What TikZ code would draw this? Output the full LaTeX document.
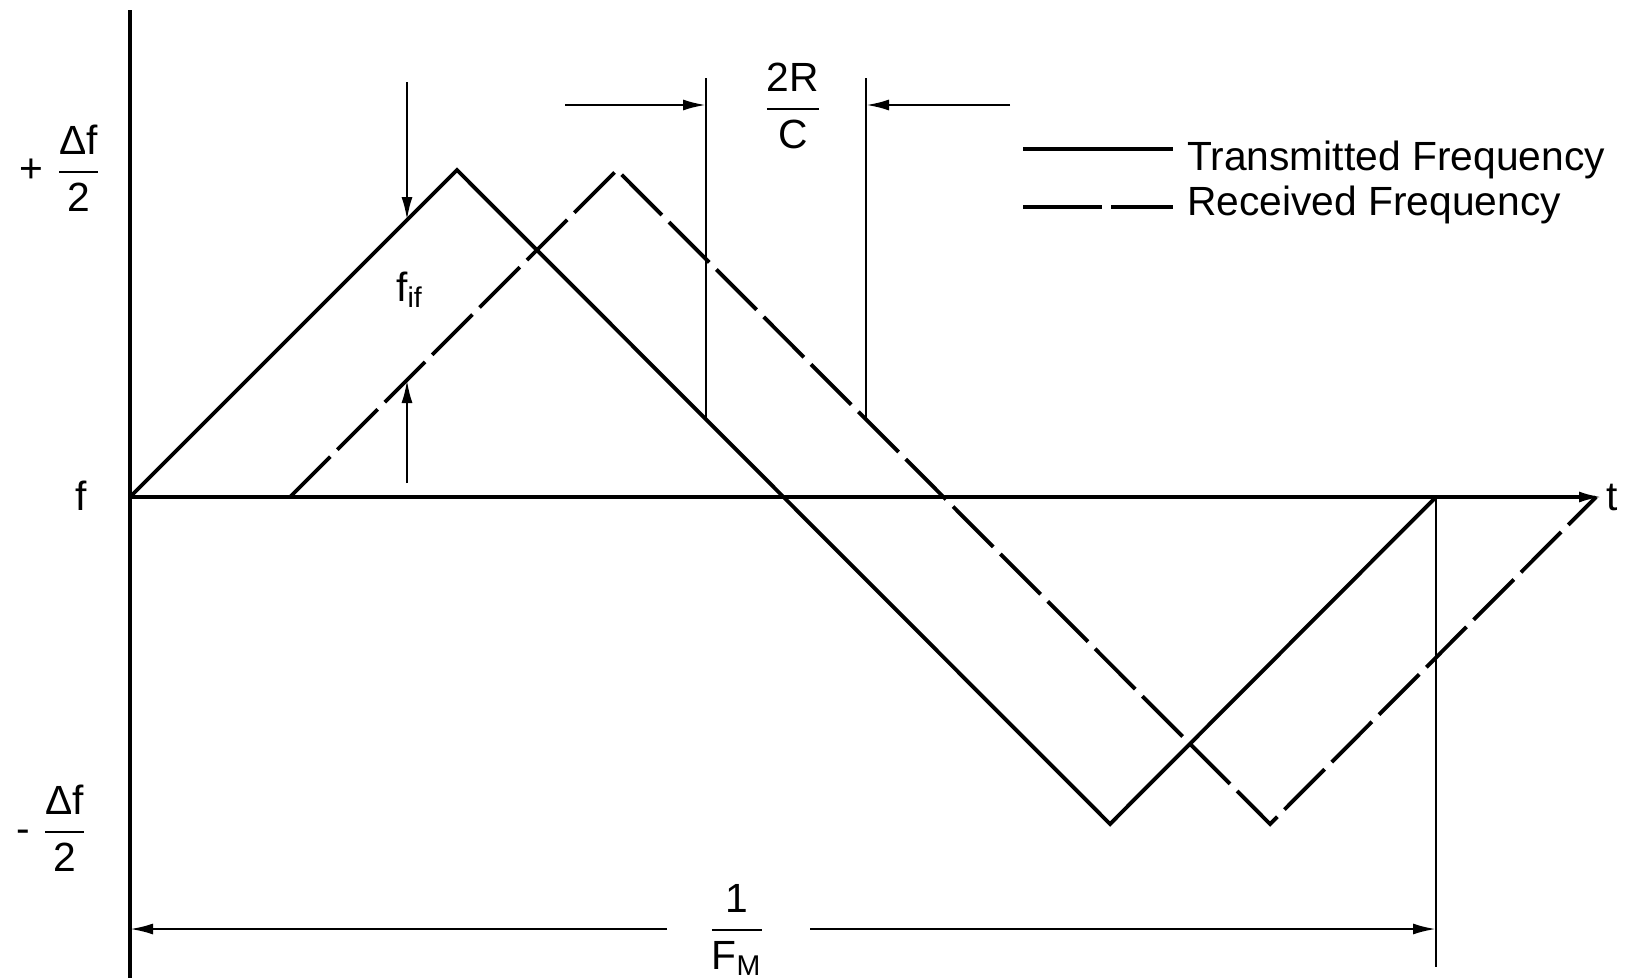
\documentclass[tikz,border=0pt]{standalone}
\usepackage{amsmath}
\usepackage{fontspec}
\setmainfont{Liberation Sans}
\usetikzlibrary{arrows.meta,positioning,calc}
\tikzset{
  fmcwaxis/.style={line width=0.9pt},
  fmcwtx/.style={line width=1.1pt,line join=miter},
  fmcwrx/.style={fmcwtx,dash pattern=on 5.7mm off 1mm},
  fmcwlegrx/.style={fmcwtx,dash pattern=on 7.9mm off 0.9mm on 20mm},
  fmcwdim/.style={-{Latex[length=2.3mm,width=1.1mm]},line width=0.7pt},
  fmcwguide/.style={line width=0.8pt},
  fmcwlabel/.style={font=\fontsize{11.6}{14}\selectfont,inner sep=1pt}
}

\begin{document}
\begin{tikzpicture}[x=1cm,y=1cm]
  \useasboundingbox (-1.30,-4.81) rectangle (14.96,4.97);
  % axes
  \coordinate (origin) at (0,0);
  \coordinate (axtop) at (0,4.87);
  \coordinate (axbot) at (0,-4.81);
  \coordinate (axend) at (14.72,0);
  \draw[fmcwaxis] (axtop) -- (axbot);
  \draw[fmcwaxis,-{Latex[length=2.3mm,width=1.1mm]}] (origin) -- (axend);
  \node[fmcwlabel,anchor=west] (tlab) at (axend) {t};
  \node[fmcwlabel] (flab) at (-0.49,0.01) {f};
  \node[fmcwlabel] (fmax) at (-0.69,3.29) {+ $\dfrac{\text{Δf}}{\text{2}}$};
  \node[fmcwlabel] (fmin) at (-0.78,-3.31) {- $\dfrac{\text{Δf}}{\text{2}}$};
  % transmitted and received sweeps
  \coordinate (tx0) at (0,0);
  \coordinate (txpk) at (3.27,3.27);
  \coordinate (txtr) at (9.80,-3.27);
  \coordinate (txend) at (13.06,0);
  \coordinate (rx0) at (1.60,0);
  \coordinate (rxpk) at (4.87,3.27);
  \coordinate (rxtr) at (11.40,-3.27);
  \coordinate (rxend) at (14.66,0);
  \draw[fmcwtx] (tx0) -- (txpk) -- (txtr) -- (txend);
  \draw[fmcwrx] (rx0) -- (rxpk) -- (rxtr) -- (rxend);
  % beat frequency
  \coordinate (fiftop) at (2.77,4.15);
  \coordinate (fiftx) at (2.77,2.77);
  \coordinate (fifbot) at (2.77,0.14);
  \coordinate (fifrx) at (2.77,1.17);
  \draw[fmcwdim] (fiftop) -- (fiftx);
  \draw[fmcwdim] (fifbot) -- (fifrx);
  \node[fmcwlabel] (fif) at (2.80,2.07) {$\text{f}_{\text{if}}$};
  % delay 2R/C
  \coordinate (dlLtop) at (5.76,4.19);
  \coordinate (dlLbot) at (5.76,0.78);
  \coordinate (dlRtop) at (7.36,4.19);
  \coordinate (dlRbot) at (7.36,0.78);
  \coordinate (dlLfar) at (4.35,3.92);
  \coordinate (dlLmid) at (5.76,3.92);
  \coordinate (dlRfar) at (8.80,3.92);
  \coordinate (dlRmid) at (7.36,3.92);
  \draw[fmcwguide] (dlLtop) -- (dlLbot);
  \draw[fmcwguide] (dlRtop) -- (dlRbot);
  \draw[fmcwdim] (dlLfar) -- (dlLmid);
  \draw[fmcwdim] (dlRfar) -- (dlRmid);
  \node[fmcwlabel] (delay) at (6.63,3.91) {$\dfrac{\text{2R}}{\text{C}}$};
  % period 1/F_M
  \coordinate (perline) at (13.06,-4.70);
  \coordinate (perL) at (0,-4.32);
  \coordinate (perLin) at (5.37,-4.32);
  \coordinate (perR) at (13.06,-4.32);
  \coordinate (perRin) at (6.80,-4.32);
  \draw[fmcwguide] (txend) -- (perline);
  \draw[fmcwdim] (perLin) -- (perL);
  \draw[fmcwdim] (perRin) -- (perR);
  \node[fmcwlabel] (period) at (6.07,-4.33) {$\dfrac{\text{1}}{\text{F}_{\text{M}}}$};
  % legend
  \coordinate (legtxa) at (8.93,3.48);
  \coordinate (legtxb) at (10.43,3.48);
  \coordinate (legrxa) at (8.93,2.90);
  \coordinate (legrxb) at (10.43,2.90);
  \draw[fmcwtx] (legtxa) -- (legtxb);
  \draw[fmcwlegrx] (legrxa) -- (legrxb);
  \node[fmcwlabel,anchor=west] (legtx) at (10.53,3.37) {Transmitted Frequency};
  \node[fmcwlabel,anchor=west] (legrx) at (10.53,2.92) {Received Frequency};
\end{tikzpicture}
\end{document}
